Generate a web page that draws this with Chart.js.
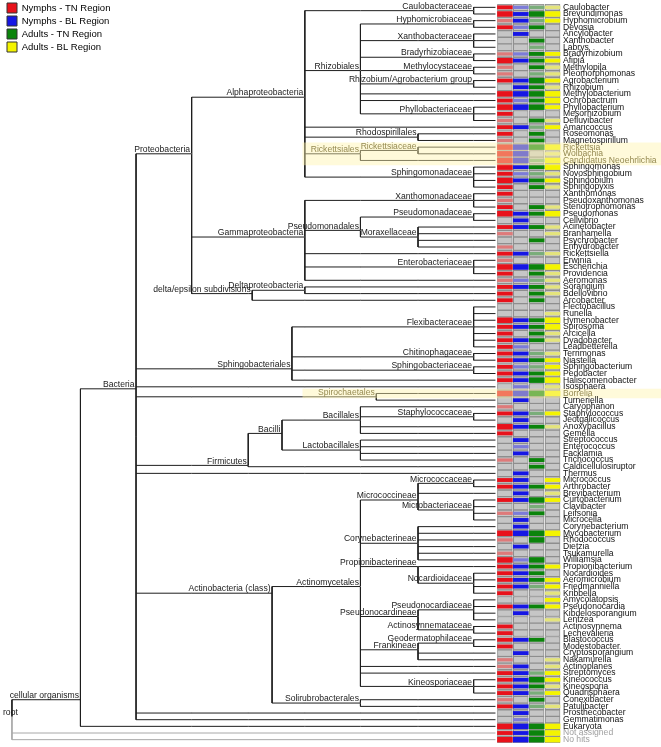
<!DOCTYPE html>
<html>
<head>
<meta charset="utf-8">
<script src="https://cdn.jsdelivr.net/npm/chart.js@4.4.1/dist/chart.umd.min.js"></script>
<style>
  html, body { margin: 0; padding: 0; background: #fff; }
  #wrap { width: 661px; height: 747px; position: relative; }
</style>
</head>
<body>
<div id="wrap"><canvas id="taxChart"></canvas></div>
<script>
// Leaf taxa, top to bottom
const genera = [
  'Caulobacter', 'Brevundimonas', 'Hyphomicrobium', 'Devosia', 'Ancylobacter', 'Xanthobacter', 'Labrys',
  'Bradyrhizobium', 'Afipia', 'Methylopila', 'Pleomorphomonas', 'Agrobacterium', 'Rhizobium',
  'Methylobacterium', 'Ochrobactrum', 'Phyllobacterium', 'Mesorhizobium', 'Defluvibacter', 'Amaricoccus',
  'Roseomonas', 'Magnetospirillum', 'Rickettsia', 'Wolbachia', 'Candidatus Neoehrlichia', 'Sphingomonas',
  'Novosphingobium', 'Sphingobium', 'Sphingopyxis', 'Xanthomonas', 'Pseudoxanthomonas', 'Stenotrophomonas',
  'Pseudomonas', 'Cellvibrio', 'Acinetobacter', 'Branhamella', 'Psychrobacter', 'Enhydrobacter',
  'Rickettsiella', 'Erwinia', 'Escherichia', 'Providencia', 'Aeromonas', 'Sorangium', 'Bdellovibrio',
  'Arcobacter', 'Flectobacillus', 'Runella', 'Hymenobacter', 'Spirosoma', 'Arcicella', 'Dyadobacter',
  'Leadbetterella', 'Terrimonas', 'Niastella', 'Sphingobacterium', 'Pedobacter', 'Haliscomenobacter',
  'Isosphaera', 'Borrelia', 'Turneriella', 'Caryophanon', 'Staphylococcus', 'Jeotgalicoccus',
  'Anoxybacillus', 'Gemella', 'Streptococcus', 'Enterococcus', 'Facklamia', 'Trichococcus',
  'Caldicellulosiruptor', 'Thermus', 'Micrococcus', 'Arthrobacter', 'Brevibacterium', 'Curtobacterium',
  'Clavibacter', 'Leifsonia', 'Microcella', 'Corynebacterium', 'Mycobacterium', 'Rhodococcus', 'Dietzia',
  'Tsukamurella', 'Williamsia', 'Propionibacterium', 'Nocardioides', 'Aeromicrobium', 'Friedmanniella',
  'Kribbella', 'Amycolatopsis', 'Pseudonocardia', 'Kibdelosporangium', 'Lentzea', 'Actinosynnema',
  'Lechevalieria', 'Blastococcus', 'Modestobacter', 'Cryptosporangium', 'Nakamurella', 'Actinoplanes',
  'Streptomyces', 'Kineococcus', 'Kineosporia', 'Quadrisphaera', 'Conexibacter', 'Patulibacter',
  'Prosthecobacter', 'Gemmatimonas', 'Eukaryota', 'Not assigned', 'No hits'
];

// Abundance class per leaf: 0 none, 1 low, 2 medium, 3 high
const nymphsTN = [2,3,1,2,0,0,0,1,3,1, 1,2,0,3,2,3,2,1,2,2, 1,3,3,3,3,2,3,2,2,1, 2,3,0,2,1,0,1,2,1,3,
  2,1,2,2,2,0,0,3,2,2, 2,2,2,2,2,2,2,0,3,0, 1,2,0,3,2,0,0,0,1,0, 0,2,2,0,2,0,1,0,0,3,
  1,0,1,3,2,2,2,2,2,0, 2,0,0,2,2,2,2,0,1,1, 2,2,2,2,1,2,0,0,3,2,3];
const nymphsBL = [1,2,2,1,2,0,0,1,2,0, 0,2,2,3,1,3,0,0,2,0, 0,3,3,3,2,1,2,0,0,0, 0,2,2,2,0,0,0,2,0,3,
  0,1,2,0,0,0,0,2,2,0, 2,1,2,2,1,2,2,1,3,2, 0,2,2,2,0,2,1,2,0,0, 2,2,2,2,2,0,1,2,2,3,
  0,2,0,1,2,2,2,2,0,0, 2,2,0,0,0,2,0,2,0,2, 2,2,2,2,0,2,2,1,3,2,3];
const adultsTN = [1,3,1,2,0,2,1,2,2,2, 1,3,2,3,2,3,0,2,1,2, 2,3,0,1,2,1,2,2,0,0, 2,2,0,2,0,2,0,1,0,3,
  2,1,2,2,2,0,0,2,2,2, 2,0,1,2,1,2,3,0,3,0, 0,1,0,2,0,0,0,0,2,2, 0,0,2,0,3,1,2,0,0,3,
  3,0,0,3,2,2,2,1,0,0, 2,0,0,0,0,2,0,0,0,0, 1,3,2,1,2,1,0,0,3,3,3];
const adultsBL = [1,3,2,0,0,0,0,2,2,1, 1,2,1,3,3,2,0,1,2,0, 0,3,1,3,3,1,2,1,0,0, 1,3,0,1,1,0,0,1,0,3,
  1,1,1,1,0,0,1,3,3,1, 1,0,1,2,2,2,3,1,3,0, 0,2,0,1,0,0,0,0,0,0, 0,2,2,1,2,0,0,0,0,3,
  0,0,0,0,2,0,2,2,1,2, 2,0,1,0,0,0,0,0,1,1, 2,2,1,2,0,1,0,0,3,3,3];

const seriesNames = ['Nymphs - TN Region', 'Nymphs - BL Region', 'Adults - TN Region', 'Adults - BL Region'];
const seriesColors = ['#e8121b', '#1616e4', '#0b840b', '#f4f400'];
const seriesLight = ['#de7a7a', '#7c7cd8', '#79ad79', '#e4e47c'];

// Internal nodes of the taxonomy: [name, parent, rank position]
const treeNodes = [
  ['root', null, 8],
  ['cellular organisms', 'root', 77],
  ['Bacteria', 'cellular organisms', 133],
  ['Proteobacteria', 'Bacteria', 189],
  ['Alphaproteobacteria', 'Proteobacteria', 303],
  ['Caulobacteraceae', 'Alphaproteobacteria', 473],
  ['Rhizobiales', 'Alphaproteobacteria', 359],
  ['Hyphomicrobiaceae', 'Rhizobiales', 473],
  ['Xanthobacteraceae', 'Rhizobiales', 473],
  ['Bradyrhizobiaceae', 'Rhizobiales', 473],
  ['Methylocystaceae', 'Rhizobiales', 473],
  ['Rhizobium/Agrobacterium group', 'Rhizobiales', 473],
  ['Phyllobacteriaceae', 'Rhizobiales', 473],
  ['Rhodospirillales', 'Alphaproteobacteria', 417],
  ['Rickettsiales', 'Alphaproteobacteria', 359],
  ['Rickettsiaceae', 'Rickettsiales', 417],
  ['Sphingomonadaceae', 'Alphaproteobacteria', 473],
  ['Gammaproteobacteria', 'Proteobacteria', 303],
  ['Xanthomonadaceae', 'Gammaproteobacteria', 473],
  ['Pseudomonadales', 'Gammaproteobacteria', 359],
  ['Pseudomonadaceae', 'Pseudomonadales', 473],
  ['Moraxellaceae', 'Pseudomonadales', 417],
  ['Enterobacteriaceae', 'Gammaproteobacteria', 473],
  ['delta/epsilon subdivisions', 'Proteobacteria', 250],
  ['Deltaproteobacteria', 'delta/epsilon subdivisions', 303],
  ['Sphingobacteriales', 'Bacteria', 290],
  ['Flexibacteraceae', 'Sphingobacteriales', 473],
  ['Chitinophagaceae', 'Sphingobacteriales', 473],
  ['Sphingobacteriaceae', 'Sphingobacteriales', 473],
  ['Spirochaetales', 'Bacteria', 375],
  ['Firmicutes', 'Bacteria', 246],
  ['Bacilli', 'Firmicutes', 280],
  ['Bacillales', 'Bacilli', 359],
  ['Staphylococcaceae', 'Bacillales', 473],
  ['Lactobacillales', 'Bacilli', 359],
  ['Actinobacteria (class)', 'Bacteria', 270],
  ['Actinomycetales', 'Actinobacteria (class)', 359],
  ['Micrococcineae', 'Actinomycetales', 417],
  ['Micrococcaceae', 'Micrococcineae', 473],
  ['Microbacteriaceae', 'Micrococcineae', 473],
  ['Corynebacterineae', 'Actinomycetales', 417],
  ['Propionibacterineae', 'Actinomycetales', 417],
  ['Nocardioidaceae', 'Propionibacterineae', 473],
  ['Pseudonocardineae', 'Actinomycetales', 417],
  ['Pseudonocardiaceae', 'Pseudonocardineae', 473],
  ['Actinosynnemataceae', 'Pseudonocardineae', 473],
  ['Frankineae', 'Actinomycetales', 417],
  ['Geodermatophilaceae', 'Frankineae', 473],
  ['Kineosporiaceae', 'Actinomycetales', 473],
  ['Solirubrobacterales', 'Actinobacteria (class)', 359]
];

// Parent node of each leaf, runs of [parent, count] in leaf order
const leafParentRuns = [
  ['Caulobacteraceae', 2], ['Hyphomicrobiaceae', 2], ['Xanthobacteraceae', 3], ['Bradyrhizobiaceae', 2],
  ['Methylocystaceae', 2], ['Rhizobium/Agrobacterium group', 2], ['Rhizobiales', 2], ['Phyllobacteriaceae', 3],
  ['Alphaproteobacteria', 1], ['Rhodospirillales', 2], ['Rickettsiaceae', 2], ['Rickettsiales', 1],
  ['Sphingomonadaceae', 4], ['Xanthomonadaceae', 3], ['Pseudomonadaceae', 2], ['Moraxellaceae', 4],
  ['Gammaproteobacteria', 1], ['Enterobacteriaceae', 3], ['Gammaproteobacteria', 1], ['Deltaproteobacteria', 2],
  ['delta/epsilon subdivisions', 1], ['Flexibacteraceae', 7], ['Chitinophagaceae', 2], ['Sphingobacteriaceae', 2],
  ['Sphingobacteriales', 1], ['Bacteria', 1], ['Spirochaetales', 2], ['Bacillales', 1], ['Staphylococcaceae', 2],
  ['Bacillales', 2], ['Lactobacillales', 4], ['Firmicutes', 1], ['Bacteria', 1], ['Micrococcaceae', 2],
  ['Micrococcineae', 1], ['Microbacteriaceae', 4], ['Corynebacterineae', 6], ['Propionibacterineae', 1],
  ['Nocardioidaceae', 4], ['Pseudonocardiaceae', 4], ['Actinosynnemataceae', 2], ['Geodermatophilaceae', 2],
  ['Frankineae', 2], ['Actinomycetales', 2], ['Kineosporiaceae', 3], ['Solirubrobacterales', 2],
  ['Bacteria', 2], ['cellular organisms', 1], ['root', 2]
];

const nodeRowOverride = {
  'Bacteria': 57.3, 'cellular organisms': 104, 'root': 106.5,
  'Sphingobacteriales': 54.3, 'Firmicutes': 68.8, 'Propionibacterineae': 84
};
const rankColumns = [189, 246, 303, 359, 417, 473];
const highlightRows = [[21, 23], [58, 58]];
const highlightNames = ['Rickettsiales', 'Rickettsiaceae', 'Spirochaetales', 'Rickettsia', 'Wolbachia',
  'Candidatus Neoehrlichia', 'Borrelia'];
const greyNames = ['Not assigned', 'No hits'];

// ---- fonts: a narrow sans if installed, otherwise a smaller regular one ----
const BASE_FONT = "'Liberation Sans', Arial, sans-serif";
function hasFont(name) {
  const c = document.createElement('canvas').getContext('2d');
  c.font = '20px monospace';
  const a = c.measureText('Rhizobium wxyz 0123').width;
  c.font = `20px '${name}', monospace`;
  return c.measureText('Rhizobium wxyz 0123').width !== a;
}
const narrow = hasFont('Liberation Sans Narrow');
const LABEL_FONT = narrow ? "'Liberation Sans Narrow', 'Liberation Sans', sans-serif" : BASE_FONT;
const LABEL_SIZE = narrow ? 10 : 8.6;

// ---- layout of the tree from the data ----
const LEAF_X = 495;
const leafParents = [];
leafParentRuns.forEach(([p, n]) => { for (let k = 0; k < n; k++) leafParents.push(p); });

const nodes = {};
treeNodes.forEach(([name, parent, x]) => { nodes[name] = { name, parent, x, leaves: [], kids: [] }; });
leafParents.forEach((p, i) => {
  nodes[p].kids.push({ row: i, leaf: i });
  let q = p;
  while (q) { nodes[q].leaves.push(i); q = nodes[q].parent; }
});
treeNodes.forEach(([name]) => {
  const n = nodes[name];
  n.row = name in nodeRowOverride ? nodeRowOverride[name]
    : (Math.min(...n.leaves) + Math.max(...n.leaves)) / 2;
});
treeNodes.forEach(([name, parent]) => { if (parent) nodes[parent].kids.push({ row: nodes[name].row, node: name }); });

const blackLines = [], greyLines = [], rankDots = [];
function seg(arr, x1, y1, x2, y2) { arr.push({ x: x1, y: y1 }, { x: x2, y: y2 }, { x: x2, y: null }); }
function dotsAlong(x1, x2, row, inclusiveEnd) {
  rankColumns.forEach(r => { if (r > x1 && (r < x2 || (inclusiveEnd && r === x2))) rankDots.push({ x: r, y: row }); });
}
treeNodes.forEach(([name, parent]) => {
  const n = nodes[name];
  if (parent) {
    seg(blackLines, nodes[parent].x, n.row, n.x, n.row);
    dotsAlong(nodes[parent].x, n.x, n.row, true);
  }
  const rows = n.kids.map(k => k.row).concat([n.row]);
  const top = Math.min(...rows), bottom = Math.max(...rows);
  if (name === 'root') {
    seg(blackLines, n.x, top, n.x, n.row);
    seg(greyLines, n.x, n.row, n.x, bottom);
  } else {
    seg(blackLines, n.x, top, n.x, bottom);
  }
  n.kids.filter(k => k.leaf !== undefined).forEach(k => {
    const grey = greyNames.includes(genera[k.leaf]);
    seg(grey ? greyLines : blackLines, n.x, k.row, LEAF_X, k.row);
    if (!grey) dotsAlong(n.x, LEAF_X, k.row, false);
  });
});

// ---- heatmap datasets ----
const columns = [nymphsTN, nymphsBL, adultsTN, adultsBL];
const colRange = k => [497 + 16 * k, 512 + 16 * k];
const cellData = [];
columns.forEach((col, k) => col.forEach((v, i) => cellData.push({ x: colRange(k), y: i })));

const bandThickness = { 1: 2.6, 2: 3.2, 3: 4.8 };
const bandSets = [];
columns.forEach((col, k) => {
  [1, 2, 3].forEach(level => {
    bandSets.push({
      type: 'bar',
      data: col.map((v, i) => v === level ? { x: colRange(k), y: i } : null).filter(Boolean),
      backgroundColor: level === 1 ? seriesLight[k] : seriesColors[k],
      borderWidth: 0,
      barThickness: bandThickness[level],
      grouped: false,
      order: 1
    });
  });
});

const highlightSets = highlightRows.map(([a, b]) => ({
  type: 'bar',
  data: [{ x: [301, 700], y: (a + b) / 2 }],
  backgroundColor: 'rgba(255, 244, 172, 0.45)',
  borderWidth: 0,
  barThickness: (b - a + 1) * 6.67 + 2,
  grouped: false,
  clip: false,
  order: 0
}));

const nodeLabelPlugin = {
  id: 'nodeLabels',
  afterDatasetsDraw(chart) {
    const { ctx, scales: { x, y } } = chart;
    ctx.save();
    ctx.font = LABEL_SIZE + 'px ' + LABEL_FONT;
    ctx.textBaseline = 'alphabetic';
    treeNodes.forEach(([name]) => {
      const n = nodes[name];
      const px = x.getPixelForValue(n.x) - 1.5;
      const py = y.getPixelForValue(n.row) - 1.8;
      ctx.fillStyle = highlightNames.includes(name) ? '#958a52' : '#1a1a1a';
      const w = ctx.measureText(name).width;
      if (px - w < 3) { ctx.textAlign = 'left'; ctx.fillText(name, 3, py); }
      else { ctx.textAlign = 'right'; ctx.fillText(name, px, py); }
    });
    ctx.restore();
  }
};

new Chart(document.getElementById('taxChart'), {
  type: 'bar',
  data: {
    datasets: [
      ...highlightSets,
      ...bandSets,
      {
        type: 'bar',
        data: cellData,
        backgroundColor: '#c6c6c6',
        borderColor: '#8e8e8e',
        borderWidth: 1,
        borderSkipped: false,
        barThickness: 6.67,
        grouped: false,
        order: 2
      },
      {
        type: 'scatter', data: rankDots, pointStyle: 'rect', pointRadius: 0.6,
        backgroundColor: '#7a7a7a', borderWidth: 0, order: 3
      },
      {
        type: 'line', indexAxis: 'x', data: blackLines,
        borderColor: '#1e1e1e', borderWidth: 1, pointRadius: 0, fill: false, spanGaps: false, order: 4
      },
      {
        type: 'line', indexAxis: 'x', data: greyLines,
        borderColor: '#a8a8a8', borderWidth: 1, pointRadius: 0, fill: false, spanGaps: false, order: 4
      }
    ]
  },
  options: {
    indexAxis: 'y',
    responsive: true,
    maintainAspectRatio: false,
    animation: false,
    devicePixelRatio: 1,
    layout: { padding: { top: 2.5, bottom: 4, left: 0, right: 0 } },
    scales: {
      x: { type: 'linear', display: false, min: 0, max: 561, offset: false, grid: { display: false } },
      y: {
        type: 'linear',
        position: 'right',
        reverse: true,
        min: -0.5,
        max: 110.5,
        offset: false,
        grid: { display: false, drawTicks: false },
        border: { display: false },
        afterBuildTicks: axis => { axis.ticks = genera.map((g, i) => ({ value: i })); },
        afterFit: axis => { axis.width = 100; axis.paddingTop = 0; axis.paddingBottom = 0; },
        ticks: {
          autoSkip: false,
          padding: 2,
          z: 1,
          font: { size: LABEL_SIZE, family: LABEL_FONT },
          color: ctx => {
            const name = genera[ctx.tick ? ctx.tick.value : ctx.index];
            if (highlightNames.includes(name)) return '#958a52';
            if (greyNames.includes(name)) return '#a0a0a0';
            return '#111';
          },
          callback: v => genera[v]
        }
      }
    },
    plugins: {
      tooltip: { enabled: false },
      legend: {
        position: 'chartArea',
        align: 'start',
        labels: {
          boxWidth: 10,
          boxHeight: 10,
          padding: 3,
          color: '#000',
          font: { size: 9.5, family: BASE_FONT },
          generateLabels: () => seriesNames.map((t, i) => ({
            text: t, fillStyle: seriesColors[i], strokeStyle: '#333', lineWidth: 1, hidden: false
          }))
        }
      }
    }
  },
  plugins: [nodeLabelPlugin]
});
</script>
</body>
</html>
